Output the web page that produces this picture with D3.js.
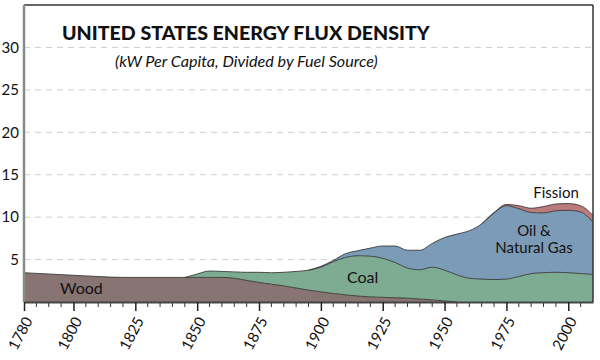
<!DOCTYPE html>
<html>
<head>
<meta charset="utf-8">
<script src="https://cdn.jsdelivr.net/npm/d3@7"></script>
<style>
  html, body { margin: 0; padding: 0; background: #fff; }
  svg { display: block; }
  text { font-family: Lato, "Noto Sans", sans-serif; fill: #111; }
</style>
</head>
<body>
<script>
// ---- data ----
const years = [1780,1790,1800,1810,1820,1830,1840,1845,1850,1855,1860,1865,1870,1875,1880,1885,1890,1895,1900,1905,1910,1915,1920,1925,1930,1935,1940,1945,1950,1955,1960,1965,1970,1975,1980,1985,1990,1995,2000,2005,2010];
const wood    = [3.45,3.3,3.15,3.0,2.9,2.9,2.9,2.9,2.9,2.9,2.9,2.8,2.55,2.3,2.1,1.9,1.65,1.4,1.2,1.0,0.85,0.7,0.6,0.55,0.5,0.45,0.35,0.25,0.12,0,0,0,0,0,0,0,0,0,0,0,0];
const coal    = [0,0,0,0,0,0,0,0,0.4,0.75,0.7,0.75,0.95,1.2,1.35,1.6,1.95,2.35,2.9,3.75,4.4,4.75,4.8,4.6,4.15,3.55,3.45,3.85,3.63,3.2,2.8,2.7,2.65,2.7,3.0,3.35,3.45,3.5,3.45,3.35,3.25];
const oilGas  = [0,0,0,0,0,0,0,0,0,0,0,0,0,0,0,0,0,0,0.1,0.15,0.45,0.6,0.95,1.45,1.95,2.1,2.3,2.8,3.85,4.8,5.6,6.5,7.85,8.65,8.0,7.2,7.05,7.25,7.35,7.25,6.15];
const fission = [0,0,0,0,0,0,0,0,0,0,0,0,0,0,0,0,0,0,0,0,0,0,0,0,0,0,0,0,0,0,0,0,0.05,0.15,0.35,0.5,0.75,0.8,0.8,0.75,0.8];
const seriesKeys = ["Wood","Coal","Oil & Natural Gas","Fission"];
const seriesColors = ["#877473","#7eac93","#7c9bb7","#b97c7b"];
const yTicks = [5,10,15,20,25,30];
const xLabels = [1780,1800,1825,1850,1875,1900,1925,1950,1975,2000];
const title = "UNITED STATES ENERGY FLUX DENSITY";
const subtitle = "(kW Per Capita, Divided by Fuel Source)";

// ---- layout ----
const W = 600, H = 360;
const L = 24, R = 593, T = 5, B = 302;

const svg = d3.select("body").append("svg").attr("width", W).attr("height", H);

const x = d3.scaleLinear().domain([1780, 2010]).range([L, R]);
const y = d3.scaleLinear().domain([0, 35]).range([B, T]);

const table = years.map((yr, i) => ({
  year: yr,
  "Wood": wood[i], "Coal": coal[i], "Oil & Natural Gas": oilGas[i], "Fission": fission[i]
}));
const stacked = d3.stack().keys(seriesKeys)(table);

// grid
svg.append("g").selectAll("line").data(yTicks).join("line")
  .attr("x1", L).attr("x2", R)
  .attr("y1", d => y(d)).attr("y2", d => y(d))
  .attr("stroke", "#cfcfcf").attr("stroke-width", 1).attr("stroke-dasharray", "6,5");

// areas
const area = d3.area().curve(d3.curveMonotoneX)
  .x(d => x(d.data.year)).y0(d => y(d[0])).y1(d => y(d[1]));
const topLine = d3.line().curve(d3.curveMonotoneX)
  .x(d => x(d.data.year)).y(d => y(d[1]));

svg.append("g").selectAll("path").data(stacked).join("path")
  .attr("d", area).attr("fill", (d, i) => seriesColors[i]);
svg.append("g").selectAll("path").data(stacked).join("path")
  .attr("d", d => topLine(d.filter((p, i) => {
    const has = q => q && (q[1] - q[0]) > 0;
    return has(p) || has(d[i - 1]) || has(d[i + 1]);
  })))
  .attr("fill", "none").attr("stroke", "#2a2a2a").attr("stroke-width", 0.8);

// frame
svg.append("line").attr("x1", L).attr("x2", R).attr("y1", T).attr("y2", T)
  .attr("stroke", "#333").attr("stroke-width", 1.5);
svg.append("line").attr("x1", R).attr("x2", R).attr("y1", T).attr("y2", B)
  .attr("stroke", "#333").attr("stroke-width", 1.5);

// y axis
const yAxis = svg.append("g").attr("transform", `translate(${L},0)`)
  .call(d3.axisLeft(y).tickValues(yTicks).tickSize(0).tickPadding(5));
yAxis.select(".domain").attr("stroke", "#8a8a8a").attr("stroke-width", 2.5)
  .attr("d", `M0,${T}V${B}`);
yAxis.selectAll("text").attr("font-size", 15).attr("fill", "#111")
  .attr("font-family", "Lato, 'Noto Sans', sans-serif");

// x axis minor ticks
const minor = d3.range(1785, 2010, 5).filter(v => !xLabels.includes(v));
svg.append("g").selectAll("line").data(minor).join("line")
  .attr("x1", d => x(d)).attr("x2", d => x(d)).attr("y1", B).attr("y2", B + 5)
  .attr("stroke", "#333").attr("stroke-width", 1);
const xAxis = svg.append("g").attr("transform", `translate(0,${B})`)
  .call(d3.axisBottom(x).tickValues(xLabels).tickFormat(d3.format("d")).tickSize(9).tickSizeOuter(0));
xAxis.select(".domain").attr("stroke", "#444").attr("stroke-width", 2);
xAxis.selectAll(".tick line").attr("stroke", "#222").attr("stroke-width", 1.5);
xAxis.selectAll("text")
  .attr("font-size", 15).attr("fill", "#111").attr("font-family", "Lato, 'Noto Sans', sans-serif")
  .attr("text-anchor", "end").attr("dy", "0.35em")
  .attr("transform", "translate(4,16) rotate(-62)").attr("x", 0).attr("y", 0);

// titles
const t1 = svg.append("text").attr("x", 62).attr("y", 40).text(title)
  .attr("font-weight", 900).attr("font-size", 19);
const tw = t1.node().getComputedTextLength();
t1.attr("font-size", 19 * 368 / tw);
const t2 = svg.append("text").attr("x", 115).attr("y", 67).text(subtitle)
  .attr("font-style", "italic").attr("font-size", 14);
const sw = t2.node().getComputedTextLength();
t2.attr("font-size", 14 * 263 / sw);

// series labels
svg.append("text").attr("x", 60).attr("y", 294).attr("font-size", 16).text("Wood");
svg.append("text").attr("x", 347).attr("y", 283).attr("font-size", 16).text("Coal");
svg.append("text").attr("x", 534).attr("y", 236).attr("font-size", 15).attr("text-anchor", "middle").text("Oil &");
svg.append("text").attr("x", 534).attr("y", 253).attr("font-size", 15).attr("text-anchor", "middle").text("Natural Gas");
svg.append("text").attr("x", 556).attr("y", 198).attr("font-size", 15).attr("text-anchor", "middle").text("Fission");
</script>
</body>
</html>
